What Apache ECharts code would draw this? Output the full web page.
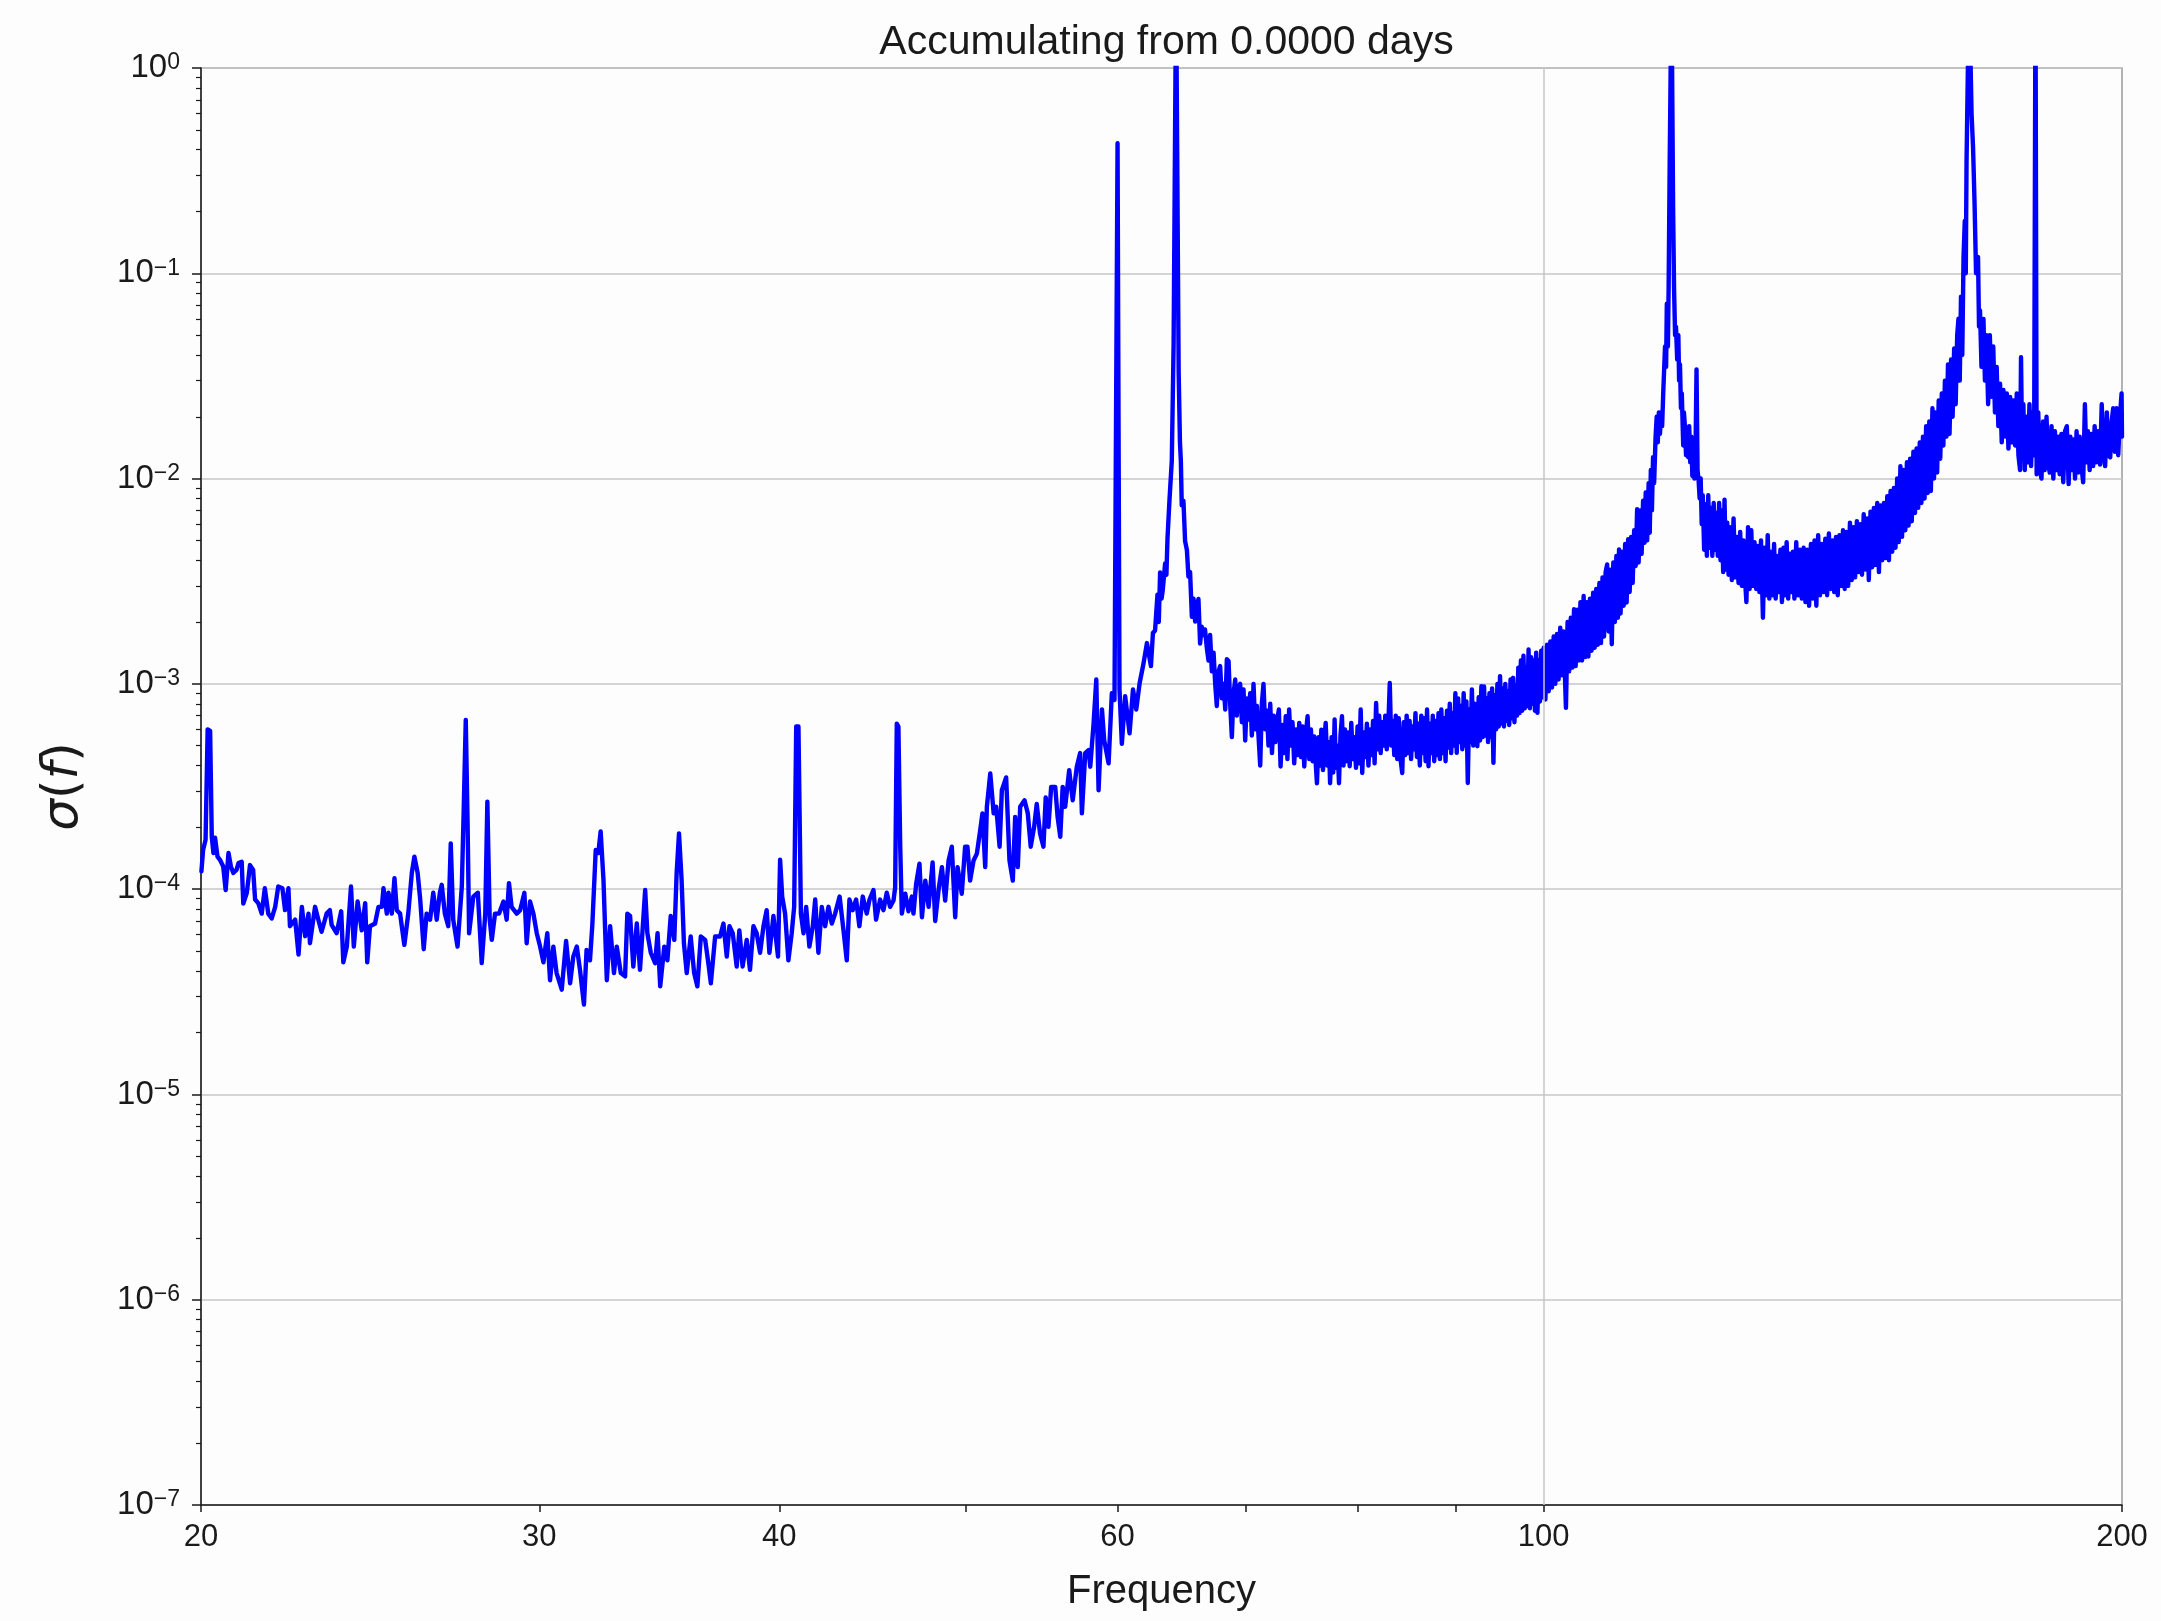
<!DOCTYPE html>
<html>
<head>
<meta charset="utf-8">
<title>Accumulating from 0.0000 days</title>
<script src="https://cdn.jsdelivr.net/npm/echarts@6/dist/echarts.min.js"></script>
<style>
  html, body { margin: 0; padding: 0; background: #fdfdfd; }
  #chart { width: 2161px; height: 1621px; }
</style>
</head>
<body>
<div id="chart"></div>
<script>
// ---- labels ----
const titleText = 'Accumulating from 0.0000 days';
const xAxisTitle = 'Frequency';

// ---- spectrum σ(f): [frequency in Hz, σ] ----
const band20to30 = [
  [20.01,1.22e-4],[20.05,1.55e-4],[20.11,1.74e-4],[20.16,6.0e-4],[20.22,5.9e-4],[20.26,1.8e-4],[20.30,1.5e-4],[20.34,1.78e-4],
  [20.40,1.44e-4],[20.46,1.39e-4],[20.54,1.29e-4],[20.60,9.9e-5],[20.67,1.5e-4],[20.73,1.29e-4],[20.79,1.2e-4],[20.87,1.24e-4],
  [20.92,1.34e-4],[21.00,1.36e-4],[21.04,8.5e-5],[21.13,9.6e-5],[21.21,1.31e-4],[21.29,1.24e-4],[21.34,8.9e-5],[21.42,8.55e-5],
  [21.51,7.6e-5],[21.59,1.01e-4],[21.68,7.6e-5],[21.77,7.2e-5],[21.86,8.2e-5],[21.94,1.03e-4],[22.05,1.01e-4],[22.12,7.9e-5],
  [22.21,1.01e-4],[22.25,6.6e-5],[22.39,7.1e-5],[22.48,4.8e-5],[22.57,8.2e-5],[22.66,5.9e-5],[22.75,7.6e-5],[22.79,5.45e-5],
  [22.93,8.2e-5],[23.02,7.1e-5],[23.11,6.2e-5],[23.25,7.6e-5],[23.34,7.9e-5],[23.39,6.7e-5],[23.53,6.1e-5],[23.66,7.8e-5],
  [23.72,4.4e-5],[23.82,5.25e-5],[23.94,1.03e-4],[24.02,5.25e-5],[24.13,8.7e-5],[24.25,6.3e-5],[24.35,8.55e-5],[24.41,4.4e-5],
  [24.49,6.6e-5],[24.64,6.8e-5],[24.74,8.2e-5],[24.84,8.2e-5],[24.89,1.01e-4],[24.99,7.6e-5],[25.04,9.6e-5],[25.14,7.6e-5],
  [25.22,1.13e-4],[25.29,7.9e-5],[25.39,7.6e-5],[25.52,5.35e-5],[25.64,7.6e-5],[25.75,1.2e-4],[25.83,1.44e-4],[25.93,1.2e-4],
  [26.01,8.9e-5],[26.12,5.1e-5],[26.21,7.6e-5],[26.32,7.1e-5],[26.42,9.6e-5],[26.53,7.1e-5],[26.63,9.6e-5],[26.69,1.05e-4],
  [26.79,7.6e-5],[26.90,6.6e-5],[26.98,1.67e-4],[27.06,7.1e-5],[27.20,5.25e-5],[27.34,1.03e-4],[27.40,2.35e-4],[27.47,6.68e-4],
  [27.53,2.1e-4],[27.58,6.1e-5],[27.72,9.2e-5],[27.87,9.6e-5],[28.00,4.36e-5],[28.12,7.6e-5],[28.19,2.67e-4],[28.27,7.1e-5],
  [28.34,5.66e-5],[28.45,7.6e-5],[28.59,7.6e-5],[28.74,8.7e-5],[28.85,7.1e-5],[28.93,1.07e-4],[29.02,8.2e-5],[29.20,7.6e-5],
  [29.32,7.9e-5],[29.47,9.6e-5],[29.55,5.45e-5],[29.67,8.7e-5],[29.79,7.6e-5],[29.91,6.1e-5],[30.03,5.25e-5],[30.15,4.4e-5]
];

const band30to46 = [
  [30.29,6.1e-5],[30.39,3.6e-5],[30.51,5.25e-5],[30.63,3.9e-5],[30.82,3.24e-5],[30.98,5.6e-5],[31.13,3.48e-5],[31.25,4.7e-5],
  [31.38,5.25e-5],[31.50,4.05e-5],[31.65,2.74e-5],[31.75,5.06e-5],[31.88,4.5e-5],[31.97,6.7e-5],[32.10,1.55e-4],[32.20,1.5e-4],
  [32.29,1.91e-4],[32.40,1.11e-4],[32.53,3.6e-5],[32.66,6.6e-5],[32.81,3.9e-5],[32.92,5.25e-5],[33.08,3.9e-5],[33.25,3.76e-5],
  [33.34,7.6e-5],[33.45,7.4e-5],[33.58,4.2e-5],[33.72,6.8e-5],[33.85,4.05e-5],[34.06,9.9e-5],[34.15,6.1e-5],[34.29,4.9e-5],
  [34.47,4.36e-5],[34.57,6.1e-5],[34.68,3.36e-5],[34.85,5.25e-5],[34.98,4.5e-5],[35.12,7.4e-5],[35.27,5.66e-5],[35.37,1.2e-4],
  [35.47,1.87e-4],[35.58,1.11e-4],[35.68,5.45e-5],[35.80,3.9e-5],[35.97,5.88e-5],[36.12,3.9e-5],[36.26,3.36e-5],[36.41,5.88e-5],
  [36.60,5.66e-5],[36.74,4.36e-5],[36.85,3.48e-5],[37.04,5.88e-5],[37.26,5.88e-5],[37.41,6.8e-5],[37.56,4.7e-5],[37.68,6.6e-5],
  [37.83,6.1e-5],[38.01,4.2e-5],[38.13,6.3e-5],[38.28,4.2e-5],[38.47,5.66e-5],[38.62,4.05e-5],[38.78,6.6e-5],[38.93,6.1e-5],
  [39.09,4.9e-5],[39.25,6.6e-5],[39.40,7.9e-5],[39.53,4.9e-5],[39.72,7.4e-5],[39.85,5.66e-5],[39.94,4.7e-5],[40.04,1.39e-4],
  [40.14,9.2e-5],[40.28,7.6e-5],[40.44,4.5e-5],[40.60,6.1e-5],[40.72,8.2e-5],[40.82,6.2e-4],[40.93,6.2e-4],[41.05,7.6e-5],
  [41.18,6.1e-5],[41.31,8.2e-5],[41.47,5.25e-5],[41.64,6.6e-5],[41.76,8.9e-5],[41.92,4.9e-5],[42.09,8.2e-5],[42.26,6.6e-5],
  [42.43,8.2e-5],[42.60,6.8e-5],[42.77,7.6e-5],[43.00,9.2e-5],[43.20,6.3e-5],[43.37,4.5e-5],[43.51,8.9e-5],[43.68,7.9e-5],
  [43.86,8.9e-5],[44.03,6.6e-5],[44.21,9.2e-5],[44.42,7.6e-5],[44.57,8.9e-5],[44.78,9.9e-5],[44.92,7.1e-5],[45.14,8.9e-5],
  [45.32,7.9e-5],[45.50,9.6e-5],[45.68,8.2e-5]
];

const band46to63 = [
  [45.87,8.8e-5],[45.96,1.02e-4],[46.05,6.4e-4],[46.14,6.2e-4],[46.24,1.61e-4],[46.33,7.6e-5],[46.52,9.5e-5],[46.70,7.8e-5],
  [46.89,9.2e-5],[46.98,7.6e-5],[47.13,1.06e-4],[47.32,1.33e-4],[47.46,7.3e-5],[47.65,1.1e-4],[47.84,8.2e-5],[48.07,1.35e-4],
  [48.22,7.0e-5],[48.42,1.0e-4],[48.61,1.28e-4],[48.80,8.8e-5],[49.00,1.38e-4],[49.19,1.61e-4],[49.39,7.3e-5],[49.53,1.28e-4],
  [49.78,9.5e-5],[49.98,1.61e-4],[50.12,1.61e-4],[50.28,1.1e-4],[50.49,1.38e-4],[50.69,1.49e-4],[50.89,1.93e-4],[51.03,2.34e-4],
  [51.20,1.28e-4],[51.30,2.52e-4],[51.51,3.66e-4],[51.72,2.34e-4],[51.88,2.52e-4],[52.09,1.61e-4],[52.23,3.03e-4],[52.50,3.5e-4],
  [52.71,1.38e-4],[52.92,1.1e-4],[53.07,2.25e-4],[53.24,1.28e-4],[53.39,2.52e-4],[53.67,2.71e-4],[53.88,2.34e-4],[54.07,1.61e-4],
  [54.29,2.01e-4],[54.46,2.6e-4],[54.68,1.86e-4],[54.90,1.61e-4],[55.05,2.8e-4],[55.23,2.01e-4],[55.41,3.15e-4],[55.68,3.15e-4],
  [55.84,2.25e-4],[56.02,1.8e-4],[56.18,3.15e-4],[56.35,2.52e-4],[56.62,3.8e-4],[56.86,2.71e-4],[57.14,3.95e-4],[57.37,4.6e-4],
  [57.49,2.34e-4],[57.72,4.6e-4],[57.95,4.76e-4],[58.07,3.95e-4],[58.30,6.4e-4],[58.49,1.05e-3],[58.65,3.03e-4],[58.89,7.5e-4],
  [59.05,5.3e-4],[59.36,4.1e-4],[59.59,9.0e-4],[59.78,8.35e-4],[60.00,0.43],[60.14,9.4e-4],[60.31,5.1e-4],[60.55,8.7e-4],
  [60.87,5.74e-4],[61.12,9.4e-4],[61.36,7.5e-4],[61.61,1.01e-3],[61.90,1.26e-3],[62.15,1.58e-3],[62.45,1.22e-3],[62.60,1.77e-3]
];

const band63to100 = [
  [62.76,1.82e-3],[62.94,2.72e-3],[63.04,2.0e-3],[63.14,3.49e-3],[63.25,2.6e-3],[63.34,2.86e-3],[63.52,3.86e-3],[63.62,3.4e-3],
  [63.70,5.09e-3],[63.85,7.79e-3],[64.03,1.22e-2],[64.17,4.49e-2],[64.36,2.5],[64.56,3.3e-2],[64.66,1.5e-2],[64.73,1.22e-2],
  [64.80,7.4e-3],[64.93,7.8e-3],[65.06,4.96e-3],[65.20,4.49e-3],[65.32,3.33e-3],[65.45,3.5e-3],[65.59,2.12e-3],[65.72,2.6e-3],
  [65.85,2.01e-3],[65.98,2.4e-3],[66.11,2.59e-3],[66.24,1.57e-3],[66.37,1.9e-3],[66.51,1.73e-3],[66.63,1.84e-3],[66.78,1.49e-3],
  [66.91,1.3e-3],[67.04,1.73e-3],[67.18,1.15e-3],[67.32,1.42e-3],[67.45,1.0e-3],[67.58,7.8e-4],[67.72,1.15e-3],[67.85,1.22e-3],
  [67.99,8.5e-4],[68.13,1.0e-3],[68.27,7.5e-4],[68.40,1.32e-3],[68.54,1.29e-3],[68.67,8.0e-4],[68.81,5.5e-4],[68.95,9.0e-4],
  [69.09,1.05e-3],[69.22,7.0e-4],[69.36,9.5e-4],[69.50,1.0e-3],[69.64,6.5e-4],[69.78,9.4e-4],[69.92,5.3e-4],[70.06,8.5e-4],
  [70.20,6.7e-4],[70.34,9.0e-4],[70.48,5.6e-4],[70.62,1.0e-3],[70.77,6.0e-4],[70.91,7.8e-4],[71.05,5.5e-4],[71.19,4.0e-4],
  [71.33,8.0e-4],[71.47,1.0e-3],[71.62,6.0e-4],[71.76,7.4e-4],[71.90,5.0e-4],[72.05,8.0e-4],[72.20,4.6e-4],[72.35,7.0e-4],
  [72.50,5.2e-4],[72.65,6.6e-4],[72.80,7.5e-4],[72.95,3.96e-4],[73.10,6.3e-4],[73.25,4.6e-4],[73.40,6.95e-4],[73.55,4.3e-4],
  [73.70,7.5e-4],[73.85,5.0e-4],[74.00,6.5e-4],[74.15,4.1e-4],[74.30,6.0e-4],[74.45,4.5e-4],[74.60,6.45e-4],[74.75,4.4e-4],
  [74.90,6.2e-4],[75.05,3.96e-4],[75.20,5.8e-4],[75.35,6.95e-4],[75.50,4.3e-4],[75.65,6.0e-4],[75.80,4.2e-4],[75.95,5.55e-4],
  [76.10,4.0e-4],[76.20,3.28e-4],[76.35,5.5e-4],[76.50,4.0e-4],[76.60,5.98e-4],[76.75,3.8e-4],[76.90,5.5e-4],[77.00,6.45e-4],
  [77.15,4.0e-4],[77.30,5.2e-4],[77.41,3.28e-4],[77.55,5.5e-4],[77.70,3.7e-4],[77.83,6.7e-4],[77.95,3.9e-4],[78.10,5.0e-4],
  [78.24,3.28e-4],[78.38,5.6e-4],[78.52,6.95e-4],[78.66,4.0e-4],[78.80,6.0e-4],[78.95,4.2e-4],[79.10,5.8e-4],[79.25,3.97e-4],
  [79.40,6.45e-4],[79.55,4.3e-4],[79.70,5.5e-4],[79.85,3.9e-4],[80.00,6.2e-4],[80.15,4.1e-4],[80.30,7.5e-4],[80.45,3.68e-4],
  [80.60,5.8e-4],[80.75,4.4e-4],[80.90,6.4e-4],[81.05,4.0e-4],[81.20,6.0e-4],[81.35,4.5e-4],[81.50,6.6e-4],[81.65,4.1e-4],
  [81.80,8.07e-4],[81.95,4.8e-4],[82.10,7.0e-4],[82.25,4.6e-4],[82.40,6.5e-4],[82.55,5.0e-4],[82.70,7.0e-4],[82.85,4.8e-4],
  [83.00,6.2e-4],[83.15,1.01e-3],[83.30,5.0e-4],[83.45,6.6e-4],[83.60,4.5e-4],[83.75,7.0e-4],[83.90,4.3e-4],[84.05,6.8e-4],
  [84.20,4.4e-4],[84.40,3.68e-4],[84.55,6.5e-4],[84.70,4.5e-4],[84.85,7.0e-4],[85.00,4.6e-4],[85.15,6.6e-4],[85.30,4.3e-4],
  [85.45,6.2e-4],[85.60,4.8e-4],[85.75,7.2e-4],[85.90,4.4e-4],[86.05,6.4e-4],[86.20,4.0e-4],[86.35,7.0e-4],[86.50,4.6e-4],
  [86.65,6.8e-4],[86.80,4.2e-4],[86.95,7.5e-4],[87.10,3.97e-4],[87.25,6.4e-4],[87.40,4.6e-4],[87.55,7.0e-4],[87.70,4.2e-4],
  [87.85,6.6e-4],[88.00,4.5e-4],[88.15,7.2e-4],[88.30,4.3e-4],[88.45,7.5e-4],[88.60,4.6e-4],[88.75,6.8e-4],[88.90,4.2e-4],
  [89.05,7.4e-4],[89.20,4.9e-4],[89.35,8.0e-4],[89.50,4.6e-4],[89.65,7.2e-4],[89.80,5.0e-4],[89.95,9.0e-4],[90.10,4.61e-4],
  [90.25,8.5e-4],[90.40,5.2e-4],[90.55,7.8e-4],[90.70,4.8e-4],[90.85,9.0e-4],[91.00,5.0e-4],[91.15,8.2e-4],[91.30,3.29e-4],
  [91.45,7.5e-4],[91.60,5.2e-4],[91.75,9.4e-4],[91.90,5.0e-4],[92.05,8.0e-4],[92.20,5.4e-4],[92.35,4.97e-4],[92.50,8.6e-4],
  [92.65,5.3e-4],[92.80,9.74e-4],[92.95,5.5e-4],[93.10,9.7e-4],[93.25,5.6e-4],[93.40,8.5e-4],[93.55,5.2e-4],[93.70,9.0e-4],
  [93.85,5.5e-4],[94.00,9.5e-4],[94.15,4.12e-4],[94.30,8.8e-4],[94.45,6.0e-4],[94.60,1.0e-3],[94.75,6.2e-4],[94.90,1.09e-3],
  [95.05,6.4e-4],[95.20,9.5e-4],[95.35,6.2e-4],[95.50,1.0e-3],[95.65,6.6e-4],[95.80,9.2e-4],[95.95,6.3e-4],[96.10,1.05e-3],
  [96.25,6.8e-4],[96.40,1.07e-3],[96.55,6.5e-4],[96.70,9.8e-4],[96.85,7.0e-4],[97.00,1.2e-3],[97.15,7.2e-4],[97.30,1.3e-3],
  [97.45,7.4e-4],[97.60,1.37e-3],[97.75,7.6e-4],[97.90,1.2e-3],[98.05,7.8e-4],[98.20,1.47e-3],[98.35,7.6e-4],[98.50,1.35e-3],
  [98.65,8.0e-4],[98.80,1.3e-3],[98.95,7.4e-4],[99.10,1.42e-3],[99.25,7.22e-4],[99.40,1.3e-3],[99.55,8.2e-4],[99.70,1.45e-3],
  [99.85,8.6e-4]
];

const band100to200 = [
  [100.00,1.5e-3],[100.20,8.39e-4],[100.40,1.55e-3],[100.60,9.2e-4],[100.80,1.61e-3],[101.00,9.6e-4],[101.20,1.7e-3],[101.40,1.0e-3],
  [101.60,1.75e-3],[101.80,1.05e-3],[102.00,1.88e-3],[102.20,1.1e-3],[102.40,1.8e-3],[102.70,7.64e-4],[102.90,2.0e-3],[103.10,1.15e-3],
  [103.30,2.1e-3],[103.50,1.2e-3],[103.70,2.31e-3],[103.90,1.22e-3],[104.10,2.3e-3],[104.30,1.3e-3],[104.50,2.5e-3],[104.70,1.3e-3],
  [104.90,2.68e-3],[105.10,1.35e-3],[105.30,2.5e-3],[105.50,1.36e-3],[105.70,2.6e-3],[105.90,1.45e-3],[106.10,2.78e-3],[106.30,1.5e-3],
  [106.50,2.9e-3],[106.70,1.55e-3],[106.90,3.1e-3],[107.10,1.58e-3],[107.30,3.3e-3],[107.50,1.7e-3],[107.70,3.5e-3],[107.90,3.82e-3],
  [108.10,1.8e-3],[108.30,3.6e-3],[108.50,1.56e-3],[108.70,3.9e-3],[108.90,2.0e-3],[109.10,4.2e-3],[109.30,2.1e-3],[109.45,4.52e-3],
  [109.65,2.2e-3],[109.85,4.4e-3],[110.05,2.4e-3],[110.25,4.8e-3],[110.45,2.49e-3],[110.65,5.06e-3],[110.85,2.8e-3],[111.05,5.2e-3],
  [111.25,3.1e-3],[111.45,5.6e-3],[111.65,3.75e-3],[111.85,7.1e-3],[112.05,3.9e-3],[112.25,7.0e-3],[112.45,4.3e-3],[112.65,7.8e-3],
  [112.85,4.87e-3],[113.00,8.55e-3],[113.20,5.0e-3],[113.40,9.5e-3],[113.55,5.45e-3],[113.70,1.1e-2],[113.85,7.0e-3],[114.00,1.27e-2],
  [114.15,9.5e-3],[114.35,1.6e-2],[114.50,2.0e-2],[114.65,1.5e-2],[114.80,2.1e-2],[114.95,1.65e-2],[115.10,2.1e-2],[115.25,1.8e-2],
  [115.40,2.6e-2],[115.55,2.6e-2],[115.65,4.4e-2],[115.80,3.5e-2],[115.90,7.1e-2],[116.05,4.4e-2],[116.15,8.4e-2],[116.30,0.35],
  [116.55,2.5],[116.78,0.2],[116.91,8.4e-2],[117.05,5.0e-2],[117.18,5.5e-2],[117.35,3.8e-2],[117.51,5.0e-2],[117.62,3.0e-2],
  [117.74,3.6e-2],[117.88,2.2e-2],[118.00,2.6e-2],[118.20,1.45e-2],[118.30,2.1e-2],[118.44,1.8e-2],[118.60,1.3e-2],[118.75,1.7e-2],
  [118.90,1.27e-2],[119.05,1.8e-2],[119.20,1.2e-2],[119.35,1.6e-2],[119.50,1.03e-2],[119.65,1.5e-2],[119.80,1.0e-2],[119.95,1.3e-2],
  [120.10,3.4e-2],[120.25,1.1e-2],[120.40,9.8e-3],[120.55,8.0e-3],[120.70,1.0e-2],[120.85,6.0e-3],[121.00,8.3e-3],[121.20,4.5e-3],
  [121.40,7.5e-3],[121.60,4.2e-3],[121.80,8.3e-3],[122.00,4.6e-3],[122.20,7.2e-3],[122.40,4.2e-3],[122.60,7.6e-3],[122.80,4.5e-3],
  [123.00,6.8e-3],[123.20,4.2e-3],[123.40,7.6e-3],[123.60,4.0e-3],[123.80,7.0e-3],[124.00,3.5e-3],[124.20,7.9e-3],[124.40,3.6e-3],
  [124.60,6.1e-3],[124.80,3.4e-3],[125.00,5.8e-3],[125.30,3.2e-3],[125.55,6.4e-3],[125.80,3.3e-3],[126.05,5.2e-3],[126.30,3.1e-3],
  [126.55,5.5e-3],[126.80,3.0e-3],[127.05,5.0e-3],[127.30,3.2e-3],[127.50,2.5e-3],[127.75,5.8e-3],[128.00,2.9e-3],[128.25,5.6e-3],
  [128.50,3.0e-3],[128.75,4.9e-3],[129.00,2.9e-3],[129.25,4.7e-3],[129.50,2.8e-3],[129.75,5.0e-3],[130.05,2.1e-3],[130.30,4.6e-3],
  [130.55,2.7e-3],[130.80,5.3e-3],[131.05,2.6e-3],[131.30,4.4e-3],[131.55,2.7e-3],[131.80,4.8e-3],[132.05,2.6e-3],[132.30,4.2e-3],
  [132.55,2.8e-3],[132.80,4.5e-3],[133.05,2.5e-3],[133.30,4.6e-3],[133.55,2.7e-3],[133.80,4.9e-3],[134.05,2.6e-3],[134.30,4.3e-3],
  [134.55,2.8e-3],[134.80,4.4e-3],[135.05,2.6e-3],[135.35,4.9e-3],[135.65,2.7e-3],[135.95,4.5e-3],[136.25,2.6e-3],[136.55,4.6e-3],
  [136.85,2.5e-3],[137.15,4.5e-3],[137.45,2.4e-3],[137.75,4.8e-3],[138.05,2.6e-3],[138.35,5.0e-3],[138.65,2.4e-3],[138.95,5.3e-3],
  [139.25,2.7e-3],[139.55,4.8e-3],[139.85,2.8e-3],[140.15,5.1e-3],[140.45,2.7e-3],[140.75,5.4e-3],[141.05,2.9e-3],[141.35,5.0e-3],
  [141.65,2.8e-3],[141.95,5.2e-3],[142.25,2.7e-3],[142.55,5.3e-3],[142.85,3.0e-3],[143.15,5.6e-3],[143.45,2.9e-3],[143.75,5.5e-3],
  [144.05,3.0e-3],[144.35,6.1e-3],[144.65,3.2e-3],[144.95,5.8e-3],[145.25,3.3e-3],[145.55,6.2e-3],[145.85,3.5e-3],[146.15,6.0e-3],
  [146.45,3.4e-3],[146.75,6.7e-3],[147.05,3.6e-3],[147.35,6.4e-3],[147.65,3.2e-3],[147.95,6.9e-3],[148.25,3.7e-3],[148.55,7.2e-3],
  [148.85,3.8e-3],[149.15,7.6e-3],[149.45,3.5e-3],[149.75,7.4e-3],[150.05,4.0e-3],[150.35,7.6e-3],[150.65,4.1e-3],[150.95,8.2e-3],
  [151.25,4.0e-3],[151.55,8.7e-3],[151.85,4.4e-3],[152.15,9.0e-3],[152.45,4.6e-3],[152.75,1.0e-2],[153.05,4.9e-3],[153.35,1.15e-2],
  [153.65,5.2e-3],[153.95,1.1e-2],[154.25,5.6e-3],[154.55,1.2e-2],[154.85,5.9e-3],[155.15,1.25e-2],[155.45,6.2e-3],[155.75,1.35e-2],
  [156.05,6.8e-3],[156.35,1.4e-2],[156.65,7.2e-3],[156.95,1.5e-2],[157.25,7.6e-3],[157.55,1.6e-2],[157.85,8.0e-3],[158.15,1.8e-2],
  [158.45,8.5e-3],[158.75,1.9e-2],[159.05,8.7e-3],[159.35,2.2e-2],[159.65,1.0e-2],[159.95,2.1e-2],[160.25,1.07e-2],[160.55,2.4e-2],
  [160.85,1.25e-2],[161.15,2.6e-2],[161.45,1.45e-2],[161.75,3.0e-2],[162.05,1.6e-2],[162.35,3.6e-2],[162.65,1.65e-2],[162.95,3.8e-2],
  [163.25,2.0e-2],[163.55,4.3e-2],[163.85,2.3e-2],[164.15,5.0e-2],[164.40,6.0e-2],[164.65,3.0e-2],[164.90,7.7e-2],[165.15,4.0e-2],
  [165.40,0.12],[165.65,0.18],[165.85,0.1],[166.00,0.35],[166.50,2.5],[167.00,0.6],[167.30,0.41],[167.60,0.22],
  [167.90,0.1],[168.30,0.12],[168.50,5.5e-2],[168.70,6.6e-2],[169.00,3.5e-2],[169.40,6.0e-2],[169.70,3.0e-2],[170.00,5.0e-2],
  [170.35,2.3e-2],[170.70,5.0e-2],[171.05,2.5e-2],[171.40,4.4e-2],[171.75,2.1e-2],[172.10,3.5e-2],[172.45,1.8e-2],[172.80,2.9e-2],
  [173.15,1.5e-2],[173.50,2.7e-2],[173.85,1.6e-2],[174.20,2.6e-2],[174.55,1.4e-2],[174.90,2.5e-2],[175.25,1.5e-2],[175.60,2.4e-2],
  [175.95,1.45e-2],[176.30,2.6e-2],[176.65,1.3e-2],[177.00,1.1e-2],[177.20,3.9e-2],[177.45,1.3e-2],[177.70,2.3e-2],[178.00,1.1e-2],
  [178.35,2.0e-2],[178.70,1.2e-2],[179.00,2.3e-2],[179.35,1.15e-2],[179.70,2.1e-2],[180.00,1.3e-2],[180.30,2.5],[180.55,1.05e-2],
  [180.90,2.1e-2],[181.25,1.1e-2],[181.60,1.0e-2],[181.95,1.9e-2],[182.30,1.1e-2],[182.70,2.0e-2],[183.05,1.2e-2],[183.40,1.07e-2],
  [183.80,1.8e-2],[184.20,1.0e-2],[184.55,1.7e-2],[184.90,1.1e-2],[185.25,1.6e-2],[185.60,1.05e-2],[186.00,1.65e-2],[186.40,9.6e-3],
  [186.80,1.7e-2],[187.20,1.8e-2],[187.60,9.4e-3],[188.00,1.6e-2],[188.35,1.1e-2],[188.70,1.55e-2],[189.05,1.0e-2],[189.40,1.7e-2],
  [189.75,1.07e-2],[190.10,1.6e-2],[190.50,1.15e-2],[190.90,9.6e-3],[191.30,2.3e-2],[191.65,1.2e-2],[192.00,1.7e-2],[192.40,1.1e-2],
  [192.80,1.65e-2],[193.20,1.15e-2],[193.55,1.8e-2],[193.90,1.2e-2],[194.30,1.7e-2],[194.80,1.17e-2],[195.20,2.3e-2],[195.60,1.3e-2],
  [196.00,1.15e-2],[196.40,2.1e-2],[196.80,1.3e-2],[197.20,1.27e-2],[197.55,1.9e-2],[197.90,2.2e-2],[198.30,1.35e-2],[198.70,2.2e-2],
  [199.10,1.3e-2],[199.50,2.0e-2],[199.90,2.6e-2],[200.00,1.6e-2]
];

// ---- axis ticks ----
const xTickValues = [20, 30, 40, 50, 60, 70, 80, 90, 100, 200];
const xLabelValues = [20, 30, 40, 60, 100, 200];
const xGridValues = [100];
const yDecades = [1e-7, 1e-6, 1e-5, 1e-4, 1e-3, 1e-2, 1e-1, 1];
const minorMantissas = [2, 3, 4, 5, 6, 7, 8, 9];

const spectrum = [].concat(band20to30, band30to46, band46to63, band63to100, band100to200);

const minorTickValues = [];
yDecades.slice(0, -1).forEach(d => minorMantissas.forEach(m => minorTickValues.push(m * d)));

const FONT = "'Liberation Sans', Arial, Helvetica, sans-serif";
const INK = '#1a1a1a';
const GRID_GRAY = '#c6c6c6';

const chartW = 2161, gridLeft = 201, gridRight = 39;

function decadeLabel(v) {
  const e = Math.round(Math.log10(v));
  const s = e < 0 ? '\u2212' + (-e) : String(e);
  return '{b|10}{e|' + s + '}';
}

const chart = echarts.init(document.getElementById('chart'), null, { renderer: 'canvas' });

chart.setOption({
  animation: false,
  backgroundColor: '#fdfdfd',
  title: {
    text: titleText,
    left: gridLeft + (chartW - gridLeft - gridRight) / 2,
    top: 17,
    textAlign: 'center',
    textStyle: { fontFamily: FONT, fontSize: 41, fontWeight: 'normal', color: INK }
  },
  grid: {
    left: gridLeft, right: gridRight, top: 68, bottom: 116,
    show: true, borderColor: '#9a9a9a', borderWidth: 1.5, backgroundColor: 'transparent'
  },
  xAxis: [{
    type: 'log', logBase: 10, min: 20, max: 200,
    name: xAxisTitle, nameLocation: 'middle', nameGap: 67,
    nameTextStyle: { fontFamily: FONT, fontSize: 40, color: INK },
    axisLine: { show: true, onZero: false, lineStyle: { color: INK, width: 1.5 } },
    axisTick: { show: true, inside: false, length: 7, customValues: xTickValues, lineStyle: { color: INK, width: 1.5 } },
    axisLabel: {
      show: true, customValues: xLabelValues, margin: 17,
      fontFamily: FONT, fontSize: 31, color: INK,
      formatter: v => String(Math.round(v))
    },
    minorTick: { show: false },
    splitLine: { show: false }
  }],
  yAxis: [{
    type: 'log', logBase: 10, min: 1e-7, max: 1,
    name: '{s|\u03c3}{p|(}{s|f}{p|)}', nameLocation: 'middle', nameGap: 112, nameRotate: 90,
    nameTextStyle: {
      rich: {
        s: { fontFamily: "'DejaVu Sans', sans-serif", fontStyle: 'italic', fontSize: 50, color: INK },
        p: { fontFamily: "'DejaVu Sans', sans-serif", fontSize: 50, color: INK }
      }
    },
    axisLine: { show: true, onZero: false, lineStyle: { color: INK, width: 1.5 } },
    axisTick: { show: true, inside: false, length: 9, customValues: yDecades, lineStyle: { color: INK, width: 1.5 } },
    axisLabel: {
      show: true, customValues: yDecades, margin: 21,
      formatter: decadeLabel,
      rich: {
        b: { fontFamily: FONT, fontSize: 33, color: INK },
        e: { fontFamily: FONT, fontSize: 23, color: INK, verticalAlign: 'top' }
      }
    },
    splitLine: { show: true, lineStyle: { color: GRID_GRAY, width: 1.5 } }
  }, {
    // minor decade ticks (2..9 × 10^k)
    type: 'log', logBase: 10, min: 1e-7, max: 1, position: 'left',
    axisLine: { show: false },
    axisTick: { show: true, inside: false, length: 5, customValues: minorTickValues, lineStyle: { color: INK, width: 1.2 } },
    axisLabel: { show: false },
    splitLine: { show: false }
  }],
  series: [{
    // vertical grid line at the 100 Hz decade
    type: 'line', data: [], z: 1, silent: true,
    markLine: {
      silent: true, symbol: 'none', label: { show: false },
      lineStyle: { color: GRID_GRAY, width: 1.5, type: 'solid' },
      data: xGridValues.map(v => ({ xAxis: v })),
      animation: false
    }
  }, {
    name: 'sigma',
    type: 'line',
    xAxisIndex: 0, yAxisIndex: 0,
    data: spectrum,
    showSymbol: false, symbol: 'none',
    clip: true, z: 3,
    lineStyle: { color: '#0000ff', width: 4.4, join: 'round', cap: 'round' }
  }]
});
</script>
</body>
</html>
